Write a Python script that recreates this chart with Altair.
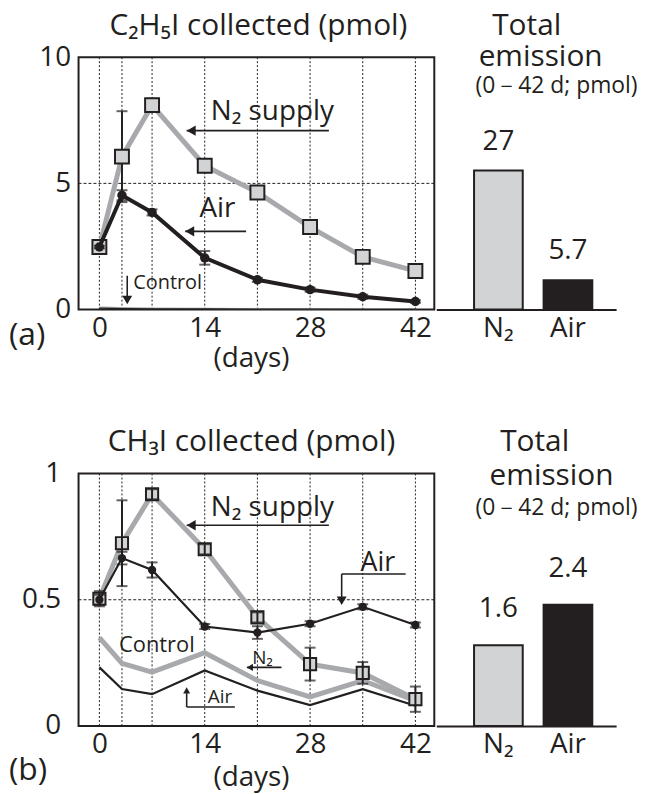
import altair as alt
import pandas as pd

FONT = "Open Sans"
BLACK = "#231f20"
GRAY = "#a7a9ac"
LIGHT = "#d1d3d4"

# ---------------- data ----------------
days = [0, 3, 7, 14, 21, 28, 35, 42]
day_ticks = [0, 14, 28, 42]
treatments = ["N₂", "Air"]

# (a) C2H5I collected (pmol)
a_n2 = [2.48, 6.06, 8.10, 5.70, 4.64, 3.27, 2.09, 1.53]
a_n2_err = [0.10, 1.80, 0.25, 0.10, 0.10, 0.10, 0.10, 0.10]
a_air = [2.48, 4.53, 3.85, 2.05, 1.18, 0.79, 0.51, 0.32]
a_air_err = [0.05, 0.20, 0.12, 0.27, 0.08, 0.08, 0.08, 0.05]
a_ctrl_n2 = [0.10, 0.08, 0.06, 0.05, 0.04, 0.03, 0.02, 0.02]
a_ctrl_air = [0.06, 0.04, 0.03, 0.03, 0.02, 0.02, 0.01, 0.01]
a_totals = [27, 5.7]
a_total_labels = ["27", "5.7"]

# (b) CH3I collected (pmol)
b_n2 = [0.504, 0.724, 0.918, 0.700, 0.430, 0.245, 0.210, 0.106]
b_n2_err = [0.03, 0.17, 0.02, 0.02, 0.02, 0.065, 0.043, 0.05]
b_air = [0.50, 0.665, 0.618, 0.394, 0.370, 0.405, 0.472, 0.400]
b_air_err = [0.02, 0.025, 0.03, 0.01, 0.025, 0.01, 0.01, 0.01]
b_ctrl_n2 = [0.35, 0.248, 0.213, 0.29, 0.18, 0.115, 0.18, 0.10]
b_ctrl_air = [0.232, 0.146, 0.126, 0.22, 0.14, 0.083, 0.146, 0.08]
b_totals = [1.6, 2.4]
b_total_labels = ["1.6", "2.4"]

# ---------------- layout constants ----------------
LW, LH = 358, 254
BW = 181
X_DOMAIN = [-2.77, 44.51]


def xenc():
    return alt.X("x:Q", scale=alt.Scale(domain=X_DOMAIN, nice=False, zero=False),
                 axis=alt.Axis(values=day_ticks, ticks=False, domain=False, grid=False,
                               labelFont=FONT, labelFontSize=28, labelColor=BLACK,
                               labelPadding=5, title=None))


def make_yenc(ymax, ymid, pad):
    def yenc(field="y"):
        return alt.Y(f"{field}:Q", scale=alt.Scale(domain=[0, ymax], nice=False),
                     axis=alt.Axis(values=[0, ymid, ymax], format="~r", ticks=False,
                                   domain=False, grid=False, labelFont=FONT,
                                   labelFontSize=28, labelColor=BLACK,
                                   labelPadding=pad, title=None))
    return yenc


def px_text(label, x, y, fs, align="center"):
    return alt.Chart(pd.DataFrame({"t": [label]})).mark_text(
        text=label, font=FONT, fontSize=fs, color=BLACK, align=align, baseline="middle"
    ).encode(x=alt.value(x), y=alt.value(y))


def line_panel(n2, n2e, air, aire, cn2, cair, ymax, ymid, pad, air_w, ctrl_w,
               sq_size, circ_size, err_on_top, annotations, outside):
    X = xenc()
    yenc = make_yenc(ymax, ymid, pad)
    Y = yenc()
    layers = []
    # grid
    layers.append(alt.Chart(pd.DataFrame({"x": days})).mark_rule(
        color=BLACK, strokeWidth=1, strokeDash=[2, 2]).encode(
        x=X, y=alt.value(0), y2=alt.value(LH)))
    layers.append(alt.Chart(pd.DataFrame({"y": [ymid]})).mark_rule(
        color=BLACK, strokeWidth=1, strokeDash=[3, 2]).encode(
        y=Y, x=alt.value(0), x2=alt.value(LW)))
    # controls
    layers.append(alt.Chart(pd.DataFrame({"x": days, "y": cn2})).mark_line(
        color=GRAY, strokeWidth=ctrl_w[0]).encode(x=X, y=Y))
    layers.append(alt.Chart(pd.DataFrame({"x": days, "y": cair})).mark_line(
        color=BLACK, strokeWidth=ctrl_w[1]).encode(x=X, y=Y))

    def errs(vals, e):
        d = pd.DataFrame({"x": days, "lo": [v - s for v, s in zip(vals, e)],
                          "hi": [v + s for v, s in zip(vals, e)]})
        base = alt.Chart(d)
        return [
            base.mark_rule(color=BLACK, strokeWidth=2).encode(x=X, y=yenc("lo"), y2="hi:Q"),
            base.mark_tick(orient="horizontal", size=11, thickness=2, color=BLACK).encode(x=X, y=yenc("lo")),
            base.mark_tick(orient="horizontal", size=11, thickness=2, color=BLACK).encode(x=X, y=yenc("hi")),
        ]

    n2df = pd.DataFrame({"x": days, "y": n2})
    airdf = pd.DataFrame({"x": days, "y": air})
    layers.append(alt.Chart(n2df).mark_line(color=GRAY, strokeWidth=5).encode(x=X, y=Y))
    sq = alt.Chart(n2df).mark_point(shape="square", filled=True, fill=LIGHT, stroke=BLACK,
                                    strokeWidth=2, size=sq_size, opacity=1).encode(x=X, y=Y)
    if err_on_top:
        layers.append(sq)
        layers += errs(n2, n2e)
    else:
        layers += errs(n2, n2e)
        layers.append(sq)
    layers.append(alt.Chart(airdf).mark_line(color=BLACK, strokeWidth=air_w).encode(x=X, y=Y))
    layers += errs(air, aire)
    layers.append(alt.Chart(airdf).mark_circle(color=BLACK, size=circ_size, opacity=1).encode(x=X, y=Y))

    # annotations in data coordinates
    for a in annotations:
        kind = a[0]
        if kind == "text":
            _, label, x, y, fs = a
            layers.append(alt.Chart(pd.DataFrame({"x": [x], "y": [y]})).mark_text(
                text=label, font=FONT, fontSize=fs, color=BLACK, align="left",
                baseline="middle").encode(x=X, y=Y))
        elif kind == "seg":
            _, x, y, x2, y2 = a
            layers.append(alt.Chart(pd.DataFrame({"x": [x], "y": [y], "x2": [x2], "y2": [y2]})).mark_rule(
                color=BLACK, strokeWidth=1.6).encode(x=X, y=Y, x2="x2:Q", y2="y2:Q"))
        elif kind == "head":
            _, x, y, shape, size = a
            layers.append(alt.Chart(pd.DataFrame({"x": [x], "y": [y]})).mark_point(
                shape=shape, filled=True, color=BLACK, size=size, opacity=1).encode(x=X, y=Y))
    for (label, x, y, fs, align) in outside:
        layers.append(px_text(label, x, y, fs, align))

    return alt.layer(*layers).properties(
        width=LW, height=LH, view=alt.ViewBackground(stroke=BLACK, strokeWidth=2))


def bar_panel(totals, labels, ymax, dy, headers):
    df = pd.DataFrame({"name": treatments, "y": totals, "label": labels})
    BX = alt.X("name:N", sort=treatments,
               scale=alt.Scale(paddingInner=0.3, paddingOuter=0.443, align=0.613),
               axis=alt.Axis(ticks=False, domain=True, domainColor=BLACK, domainWidth=2,
                             labelAngle=0, labelFont=FONT, labelFontSize=28,
                             labelColor=BLACK, labelPadding=5, title=None, grid=False))
    BY = alt.Y("y:Q", scale=alt.Scale(domain=[0, ymax], nice=False), axis=None)
    bars = alt.Chart(df).mark_bar(stroke=BLACK, strokeWidth=2).encode(
        x=BX, y=BY,
        color=alt.Color("name:N", scale=alt.Scale(domain=treatments, range=[LIGHT, BLACK]),
                        legend=None))
    vals = alt.Chart(df).mark_text(font=FONT, fontSize=28, color=BLACK, baseline="middle",
                                   dy=dy).encode(x=BX, y=BY, text="label:N")
    layers = [bars, vals]
    for (label, x, y, fs) in headers:
        layers.append(px_text(label, x, y, fs))
    return alt.layer(*layers).properties(width=BW, height=LH)


ann_a = [
    ("text", "N₂ supply", 14.8, 7.83, 28),
    ("seg", 11.6, 7.09, 30.5, 7.09),
    ("head", 12.2, 7.09, "triangle-left", 110),
    ("text", "Air", 13.3, 4.0, 28),
    ("seg", 11.4, 3.10, 19.5, 3.10),
    ("head", 12.0, 3.10, "triangle-left", 110),
    ("text", "Control", 4.5, 1.06, 20),
    ("seg", 3.7, 1.34, 3.7, 0.4),
    ("head", 3.7, 0.38, "triangle-down", 100),
]
out_a = [
    ("C₂H₅I collected  (pmol)", 181, -31, 30, "center"),
    ("(a)", -70, 280, 32, "left"),
    ("(days)", 174, 304, 28, "center"),
]
ann_b = [
    ("text", "N₂ supply", 14.8, 0.862, 28),
    ("seg", 11.6, 0.795, 30.5, 0.795),
    ("head", 12.2, 0.795, "triangle-left", 110),
    ("text", "Air", 34.7, 0.645, 27),
    ("seg", 32.2, 0.602, 40.7, 0.602),
    ("seg", 32.2, 0.602, 32.2, 0.51),
    ("head", 32.2, 0.496, "triangle-down", 100),
    ("text", "Control", 2.6, 0.32, 22),
    ("text", "N₂", 20.3, 0.27, 19),
    ("seg", 19.6, 0.232, 24.2, 0.232),
    ("head", 20.0, 0.232, "triangle-left", 50),
    ("text", "Air", 14.4, 0.115, 19),
    ("seg", 11.6, 0.075, 18.0, 0.075),
    ("seg", 11.6, 0.075, 11.6, 0.13),
    ("head", 11.6, 0.141, "triangle-up", 50),
]
out_b = [
    ("CH₃I collected (pmol)", 174, -32, 30, "center"),
    ("(b)", -70, 298, 32, "left"),
    ("(days)", 174, 306, 28, "center"),
]

line_a = line_panel(a_n2, a_n2_err, a_air, a_air_err, a_ctrl_n2, a_ctrl_air,
                    10, 5, 8, 4, (1.2, 1.2), 196, 90, False, ann_a, out_a)
line_b = line_panel(b_n2, b_n2_err, b_air, b_air_err, b_ctrl_n2, b_ctrl_air,
                    1, 0.5, 18, 2.2, (5, 2.2), 150, 70, True, ann_b, out_b)

bar_a = bar_panel(a_totals, a_total_labels, 49, -29,
                  [("Total", 91, -31, 30), ("emission", 105, 0, 30), ("(0－42 d; pmol)", 121, 29, 23)])
bar_b = bar_panel(b_totals, b_total_labels, 5, -36,
                  [("Total", 99, -32, 30), ("emission", 116, 3, 30), ("(0－42 d; pmol)", 121, 35, 23)])

row_a = alt.hconcat(line_a, bar_a, spacing=0)
row_b = alt.hconcat(line_b, bar_b, spacing=0)

chart = alt.vconcat(row_a, row_b, spacing=52).properties(padding=0).configure_view(strokeWidth=0)

chart.save("out.html", embed_options={"renderer": "svg", "actions": False})
